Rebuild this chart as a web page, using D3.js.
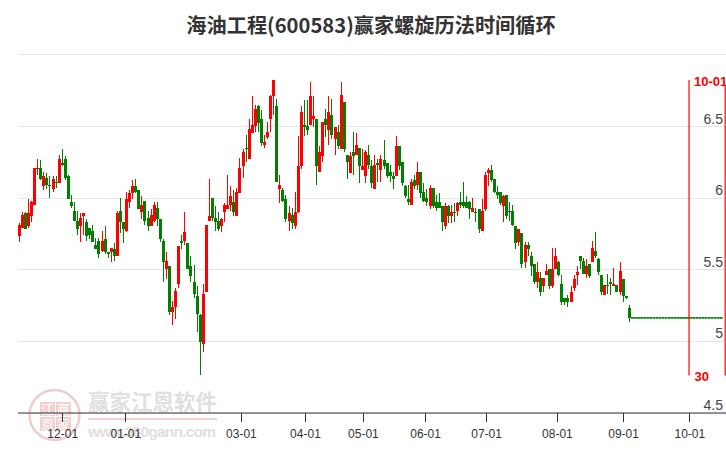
<!DOCTYPE html>
<html><head><meta charset="utf-8">
<script src="https://cdn.jsdelivr.net/npm/d3@7/dist/d3.min.js"></script>
<style>html,body{margin:0;padding:0;background:#fff;overflow:hidden}svg{display:block}</style>
</head><body><svg id="c" width="726" height="450"></svg>
<script>
const chartTitle = "海油工程(600583)赢家螺旋历法时间循环";
const opens = [5.73,5.79,5.89,5.80,5.87,5.95,6.20,6.21,6.08,6.14,
6.09,6.06,6.11,6.10,6.24,6.27,6.15,5.97,5.91,5.84,
5.80,5.87,5.83,5.79,5.77,5.67,5.70,5.63,5.71,5.62,
5.62,5.64,5.59,5.91,5.83,5.77,5.97,6.03,6.08,6.05,
5.90,5.98,5.86,5.80,5.84,5.93,5.85,5.70,5.50,5.52,
5.20,5.24,5.40,5.70,5.70,5.68,5.52,5.41,5.31,5.18,
4.98,5.34,5.84,6.00,5.86,5.84,5.80,5.90,5.92,5.95,
5.97,5.87,6.03,6.22,6.35,6.27,6.45,6.50,6.64,6.55,
6.37,6.42,6.55,6.71,6.64,6.06,6.05,5.99,5.84,5.88,
5.80,5.90,6.22,6.51,6.50,6.51,6.55,6.55,6.18,6.29,
6.55,6.47,6.58,6.41,6.46,6.34,6.67,6.30,6.17,6.32,
6.30,6.35,6.19,6.15,6.30,6.22,6.06,6.24,6.19,6.26,
6.24,6.18,6.15,6.15,6.36,6.25,6.08,5.99,5.95,6.12,
6.09,6.18,6.04,6.00,5.94,6.07,5.97,5.97,5.94,5.80,
5.94,5.87,5.90,5.91,5.97,5.97,5.97,5.97,5.90,5.90,
5.92,5.77,5.92,6.17,6.19,6.13,6.04,6.04,5.94,6.02,
5.91,5.91,5.80,5.69,5.75,5.55,5.67,5.59,5.54,5.41,
5.44,5.38,5.46,5.50,5.38,5.50,5.55,5.40,5.30,5.30,
5.27,5.37,5.46,5.59,5.56,5.47,5.54,5.55,5.63,5.57,
5.46,5.32,5.39,5.41,5.38,5.39,5.34,5.43,5.31,5.23];
const closes = [5.81,5.88,5.78,5.89,5.97,6.21,6.21,6.13,6.15,6.09,
6.08,6.13,6.10,6.27,6.23,6.14,5.99,5.94,5.84,5.78,
5.86,5.89,5.73,5.74,5.69,5.64,5.61,5.70,5.62,5.61,
5.65,5.59,5.89,5.83,5.78,5.99,6.03,6.08,6.04,5.92,
5.95,5.84,5.80,5.88,5.95,5.85,5.71,5.55,5.56,5.20,
5.24,5.35,5.66,5.68,5.76,5.50,5.45,5.33,5.19,4.99,
5.33,5.81,5.87,5.86,5.83,5.78,5.85,5.95,5.95,6.01,
5.90,6.04,6.21,6.32,6.34,6.48,6.51,6.62,6.52,6.38,
6.39,6.46,6.71,6.82,6.11,6.09,5.98,5.85,5.89,5.82,
5.90,6.22,6.60,6.49,6.47,6.71,6.57,6.22,6.32,6.53,
6.51,6.60,6.44,6.49,6.36,6.72,6.34,6.25,6.29,6.29,
6.37,6.22,6.22,6.32,6.23,6.10,6.23,6.23,6.27,6.22,
6.15,6.15,6.13,6.36,6.22,6.10,6.01,5.97,6.11,6.08,
6.18,6.03,5.98,5.97,6.07,5.94,5.93,5.93,5.83,5.94,
5.87,5.90,5.89,5.96,5.95,5.94,5.93,5.92,5.93,5.89,
5.78,5.91,6.16,6.19,6.12,6.04,6.02,5.96,6.01,5.87,
5.90,5.81,5.68,5.78,5.54,5.67,5.64,5.52,5.41,5.48,
5.34,5.44,5.49,5.38,5.50,5.59,5.46,5.27,5.27,5.27,
5.34,5.43,5.48,5.56,5.47,5.52,5.45,5.65,5.59,5.48,
5.34,5.39,5.38,5.40,5.40,5.34,5.49,5.31,5.30,5.16];
const highs = [5.82,5.90,5.90,5.99,5.98,6.21,6.27,6.26,6.18,6.17,
6.15,6.15,6.15,6.30,6.34,6.29,6.16,6.02,5.97,5.91,
5.89,5.89,5.85,5.79,5.81,5.72,5.72,5.77,5.80,5.62,
5.65,5.68,5.91,6.00,5.83,6.04,6.05,6.12,6.13,6.05,
6.01,5.98,5.91,5.92,5.97,5.97,5.85,5.71,5.62,5.52,
5.28,5.37,5.66,5.74,5.90,5.68,5.59,5.53,5.38,5.19,
5.40,5.81,6.13,6.00,5.94,5.90,5.86,5.96,6.16,6.08,
6.05,6.07,6.28,6.34,6.44,6.55,6.71,6.65,6.65,6.61,
6.44,6.53,6.72,6.82,6.69,6.16,6.07,6.02,5.94,5.93,
6.04,6.43,6.64,6.68,6.68,6.81,6.71,6.55,6.36,6.53,
6.62,6.71,6.69,6.49,6.51,6.81,6.67,6.30,6.32,6.46,
6.45,6.35,6.34,6.33,6.37,6.26,6.30,6.27,6.30,6.40,
6.24,6.23,6.18,6.43,6.36,6.25,6.09,6.09,6.13,6.16,
6.25,6.18,6.10,6.06,6.09,6.07,6.02,6.03,5.94,5.96,
5.95,5.95,5.96,5.97,6.04,6.11,6.01,5.98,6.00,5.93,
5.92,5.99,6.18,6.21,6.23,6.13,6.08,6.04,6.02,6.02,
5.97,5.95,5.80,5.78,5.75,5.69,5.69,5.62,5.54,5.55,
5.48,5.44,5.54,5.50,5.65,5.65,5.56,5.46,5.30,5.32,
5.38,5.46,5.52,5.59,5.58,5.57,5.54,5.70,5.76,5.58,
5.46,5.39,5.47,5.44,5.51,5.39,5.55,5.43,5.31,5.25];
const lows = [5.69,5.79,5.78,5.79,5.83,5.95,6.16,6.12,6.05,6.06,
6.00,6.04,6.07,6.10,6.22,6.12,5.99,5.93,5.84,5.74,
5.69,5.74,5.70,5.71,5.69,5.64,5.58,5.62,5.61,5.58,
5.55,5.56,5.59,5.75,5.68,5.76,5.93,5.99,6.03,5.92,
5.85,5.81,5.77,5.80,5.83,5.80,5.69,5.41,5.43,5.18,
5.11,5.15,5.37,5.64,5.67,5.50,5.41,5.30,5.06,4.76,
4.92,5.34,5.84,5.84,5.77,5.77,5.76,5.83,5.92,5.91,
5.87,5.87,6.03,6.14,6.25,6.27,6.45,6.46,6.46,6.36,
6.35,6.41,6.46,6.58,6.11,5.96,5.97,5.83,5.77,5.78,
5.78,5.89,6.20,6.43,6.44,6.51,6.49,6.09,6.18,6.25,
6.42,6.37,6.41,6.30,6.34,6.34,6.32,6.13,6.17,6.16,
6.30,6.10,6.19,6.10,6.20,6.07,6.06,6.11,6.11,6.20,
6.14,6.11,6.06,6.15,6.19,6.08,6.00,5.95,5.95,6.06,
6.05,6.00,5.97,5.94,5.92,5.93,5.91,5.93,5.77,5.78,
5.82,5.82,5.83,5.87,5.93,5.93,5.93,5.85,5.90,5.83,
5.75,5.77,5.91,6.08,6.11,6.03,5.99,5.95,5.83,5.85,
5.84,5.80,5.64,5.66,5.51,5.51,5.59,5.45,5.40,5.37,
5.31,5.34,5.46,5.36,5.37,5.50,5.45,5.25,5.25,5.24,
5.27,5.35,5.39,5.50,5.47,5.44,5.44,5.55,5.58,5.46,
5.32,5.32,5.33,5.32,5.38,5.34,5.32,5.27,5.29,5.13];
const projected = [5.16,5.16,5.16,5.16,5.16,5.16,5.16,5.16,5.16,5.16,
5.16,5.16,5.16,5.16,5.16,5.16,5.16,5.16,5.16,5.16,
5.16,5.16,5.16,5.16,5.16,5.16,5.16,5.16,5.16,5.16];
const xTickLabels = ["12-01","01-01","03-01","04-01","05-01","06-01","07-01","08-01","09-01","10-01"];
const xTickSessions = [14,34.6,72.3,93.2,112.1,132.4,152.3,175.4,197,218.6];
const yTicks = [7,6.5,6,5.5,5,4.5];
const cycleSessions = [218.5,230.3];
const cycleLabels = ["10-01","30"];
const wmBrand = "赢家江恩软件", wmUrl = "www.360gann.com", wmSeal = ["江","赢","恩","家"];

const RED="#ff0000", GREEN="#008000";
const svg=d3.select("#c");
const x=d3.scaleLinear().domain([0,229]).range([19.3,721.2]);
const y=d3.scaleLinear().domain([4.5,7]).range([412.5,54.4]);
const candles=opens.map((o,i)=>({i,o,c:closes[i],h:highs[i],l:lows[i]}));
const proj=projected.map((v,k)=>({i:opens.length+k,v}));

// watermark
const wm=svg.append("g");
wm.append("circle").attr("cx",54.5).attr("cy",415).attr("r",25).attr("fill","none")
  .attr("stroke","#f2cccc").attr("stroke-width",2.5);
const seal=wm.append("g");
[[40,402],[56,402],[40,417],[56,417]].forEach((p,k)=>{
  seal.append("rect").attr("x",p[0]).attr("y",p[1]).attr("width",15).attr("height",14).attr("fill","#f2d0d0");
  seal.append("text").attr("x",p[0]+7.5).attr("y",p[1]+12).attr("text-anchor","middle")
    .attr("font-family","'Noto Sans CJK SC'").attr("font-size",13).attr("fill","#fff").text(wmSeal[k]);
});
wm.append("text").attr("x",88).attr("y",410).attr("font-family","'Noto Sans CJK SC'").attr("font-weight","bold")
  .attr("font-size",21.5).attr("fill","#e0e0e0").text(wmBrand);
wm.append("rect").attr("x",88).attr("y",418).attr("width",129).attr("height",2).attr("fill","#f2d0d0");
wm.append("text").attr("x",88).attr("y",437).attr("font-family","'Liberation Sans'").attr("font-weight","bold")
  .attr("font-size",15.5).attr("textLength",128).attr("fill","#e0e0e0").text(wmUrl);

// title
svg.append("text").attr("x",371).attr("y",33).attr("text-anchor","middle")
  .attr("font-family","'Noto Sans CJK SC'").attr("font-weight","bold").attr("font-size",20.2)
  .attr("fill","#333").text(chartTitle);

// y axis: gridlines + labels
const gy=svg.append("g").attr("transform","translate(726,0)")
  .call(d3.axisLeft(y).tickValues(yTicks).tickSize(708).tickFormat(d=>d===7?"":d3.format("~g")(d)));
gy.select(".domain").remove();
gy.selectAll(".tick line").attr("stroke","#e6e6e6").attr("shape-rendering","crispEdges");
gy.selectAll(".tick text").attr("x",-3).attr("dy",0).attr("y",-3).attr("text-anchor","end")
  .attr("font-family","'Liberation Sans'").attr("font-size",14).attr("fill","#444");

// candles
const g=svg.append("g").attr("shape-rendering","crispEdges");
const col=d=>d.c>=d.o?RED:GREEN;
g.selectAll("line.w").data(candles).join("line").attr("class","w")
  .attr("x1",d=>x(d.i)).attr("x2",d=>x(d.i)).attr("y1",d=>y(d.h)).attr("y2",d=>y(d.l))
  .attr("stroke",col).attr("stroke-width",1);
g.selectAll("rect.b").data(candles).join("rect").attr("class","b")
  .attr("x",d=>x(d.i)-1.5).attr("width",3)
  .attr("y",d=>y(Math.max(d.o,d.c))).attr("height",d=>Math.max(1,Math.abs(y(d.o)-y(d.c))))
  .attr("fill",col);
svg.append("g").selectAll("rect.p").data(proj).join("rect").attr("class","p")
  .attr("x",d=>x(d.i)-1.3).attr("width",2.8).attr("y",d=>y(d.v)-0.9).attr("height",1.7).attr("fill",GREEN);

// cycle lines
const cyc=svg.append("g");
cyc.selectAll("line").data(cycleSessions).join("line")
  .attr("x1",d=>x(d)).attr("x2",d=>x(d)).attr("y1",(d,i)=>i?85:80).attr("y2",375.5)
  .attr("stroke",RED).attr("stroke-width",1.2);
cyc.append("text").attr("x",694).attr("y",86).attr("font-family","'Liberation Sans'").attr("font-weight","bold")
  .attr("font-size",13).attr("fill",RED).text(cycleLabels[0]);
cyc.append("text").attr("x",694.5).attr("y",381).attr("font-family","'Liberation Sans'").attr("font-weight","bold")
  .attr("font-size",13).attr("fill",RED).text(cycleLabels[1]);

// x axis
const gx=svg.append("g").attr("transform","translate(0,412.5)")
  .call(d3.axisBottom(x).tickValues(xTickSessions).tickSize(9).tickFormat((d,i)=>xTickLabels[i]));
gx.select(".domain").attr("d","M18,0.5H726").attr("stroke","#333");
gx.selectAll(".tick line").attr("stroke","#333").attr("shape-rendering","crispEdges");
gx.selectAll(".tick text").attr("y",17).attr("dy",0).attr("dominant-baseline","hanging")
  .attr("font-family","'Liberation Sans'").attr("font-size",12).attr("fill","#333");
</script></body></html>
